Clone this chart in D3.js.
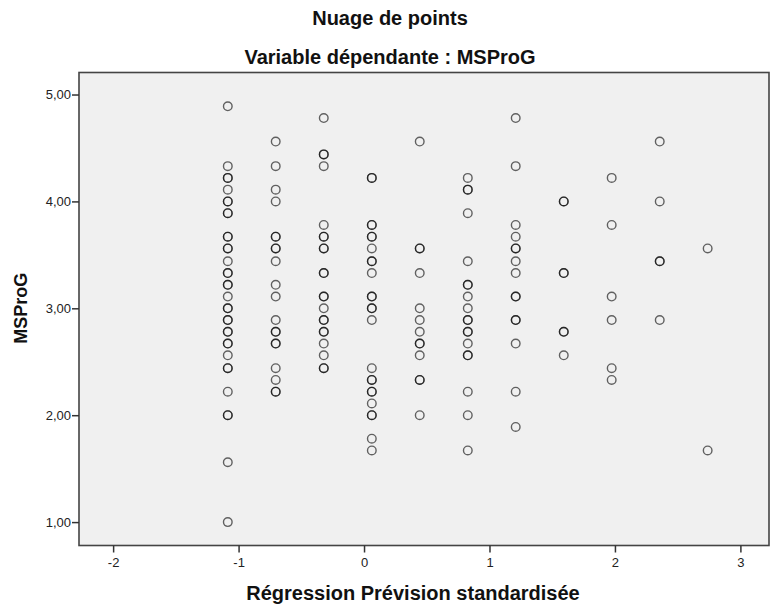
<!DOCTYPE html>
<html>
<head>
<meta charset="utf-8">
<script src="https://cdn.jsdelivr.net/npm/d3@7"></script>
<style>
  html, body { margin: 0; padding: 0; background: #fff; }
  svg { display: block; font-family: "Liberation Sans", Arial, sans-serif; }
</style>
</head>
<body>
<svg id="chart" width="770" height="612"></svg>
<script>
// ---- Data ----
const titleLines = ["Nuage de points", "Variable dépendante : MSProG"];
const xLabel = "Régression Prévision standardisée";
const yLabel = "MSProG";
const xTicks = [-2, -1, 0, 1, 2, 3];
const yTicks = [1, 2, 3, 4, 5];
// standardized predicted values (one column per level)
const predictedLevels = [-1.086, -0.704, -0.321, 0.062, 0.444, 0.827, 1.209, 1.592, 1.974, 2.357, 2.739];
// observed MSProG values for each predicted level (repeats = overlapping points)
const msprog0 = [4.89, 4.33, 4.22, 4.22, 4.11, 4.00, 4.00, 3.89, 3.89, 3.67, 3.67, 3.56, 3.56, 3.44, 3.33, 3.33, 3.22, 3.22, 3.11, 3.00, 3.00, 2.89, 2.89, 2.78, 2.78, 2.67, 2.67, 2.56, 2.44, 2.44, 2.22, 2.00, 2.00, 1.56, 1.00];
const msprog1 = [4.56, 4.33, 4.11, 4.00, 3.67, 3.67, 3.56, 3.56, 3.44, 3.22, 3.11, 2.89, 2.78, 2.78, 2.67, 2.67, 2.44, 2.33, 2.22, 2.22];
const msprog2 = [4.78, 4.44, 4.44, 4.33, 3.78, 3.67, 3.67, 3.56, 3.56, 3.33, 3.33, 3.11, 3.11, 3.00, 2.89, 2.89, 2.78, 2.78, 2.67, 2.56, 2.44, 2.44];
const msprog3 = [4.22, 4.22, 3.78, 3.78, 3.67, 3.67, 3.56, 3.44, 3.44, 3.33, 3.11, 3.11, 3.00, 3.00, 2.89, 2.44, 2.33, 2.33, 2.22, 2.22, 2.11, 2.00, 2.00, 1.78, 1.67];
const msprog4 = [4.56, 3.56, 3.56, 3.33, 3.00, 2.89, 2.78, 2.67, 2.67, 2.56, 2.33, 2.33, 2.00];
const msprog5 = [4.22, 4.11, 4.11, 3.89, 3.44, 3.22, 3.22, 3.11, 3.00, 2.89, 2.89, 2.78, 2.78, 2.67, 2.56, 2.56, 2.22, 2.00, 1.67];
const msprog6 = [4.78, 4.33, 3.78, 3.67, 3.56, 3.56, 3.44, 3.33, 3.11, 3.11, 2.89, 2.89, 2.67, 2.22, 1.89];
const msprog7 = [4.00, 4.00, 3.33, 3.33, 2.78, 2.78, 2.56];
const msprog8 = [4.22, 3.78, 3.11, 2.89, 2.44, 2.33];
const msprog9 = [4.56, 4.00, 3.44, 3.44, 2.89];
const msprog10 = [3.56, 1.67];
const msprogByLevel = [msprog0, msprog1, msprog2, msprog3, msprog4, msprog5, msprog6, msprog7, msprog8, msprog9, msprog10];

const points = [];
predictedLevels.forEach((xv, i) => msprogByLevel[i].forEach(yv => points.push({x: xv, y: yv})));

// ---- Layout ----
const svg = d3.select("#chart");
const plot = {left: 79, right: 769, top: 72.5, bottom: 545.5};

const x = d3.scaleLinear().domain([-2.272, 3.228]).range([plot.left, plot.right]);
const y = d3.scaleLinear().domain([0.781, 5.206]).range([plot.bottom, plot.top]);

const fontFam = "Liberation Sans, Arial, sans-serif";

// titles
svg.append("text").attr("x", 390).attr("y", 25).attr("text-anchor", "middle")
  .attr("font-size", 20).attr("font-weight", "bold").attr("fill", "#111").text(titleLines[0]);
svg.append("text").attr("x", 390).attr("y", 64).attr("text-anchor", "middle")
  .attr("font-size", 20).attr("font-weight", "bold").attr("fill", "#111").text(titleLines[1]);

// plot background
svg.append("rect").attr("x", plot.left).attr("y", plot.top)
  .attr("width", plot.right - plot.left).attr("height", plot.bottom - plot.top)
  .attr("fill", "#f0f0f0");

// points
svg.append("g").selectAll("circle").data(points).join("circle")
  .attr("cx", d => x(d.x)).attr("cy", d => y(d.y)).attr("r", 4.3)
  .attr("fill", "none").attr("stroke", "#000").attr("stroke-opacity", 0.6).attr("stroke-width", 1.4);

// frame
svg.append("rect").attr("x", plot.left).attr("y", plot.top)
  .attr("width", plot.right - plot.left).attr("height", plot.bottom - plot.top)
  .attr("fill", "none").attr("stroke", "#444").attr("stroke-width", 1.6);

// axes
const xAxis = d3.axisBottom(x).tickValues(xTicks).tickSize(7).tickPadding(5).tickFormat(d => String(d));
const gx = svg.append("g").attr("transform", `translate(0,${plot.bottom})`).call(xAxis);
gx.select(".domain").remove();
gx.selectAll("line").attr("stroke", "#333").attr("stroke-width", 1.5);
gx.selectAll("text").attr("font-size", 13).attr("fill", "#222").attr("font-family", fontFam);

const yAxis = d3.axisLeft(y).tickValues(yTicks).tickSize(7).tickPadding(1).tickFormat(d => d3.format(".2f")(d).replace(".", ","));
const gy = svg.append("g").attr("transform", `translate(${plot.left},0)`).call(yAxis);
gy.select(".domain").remove();
gy.selectAll("line").attr("stroke", "#333").attr("stroke-width", 1.5);
gy.selectAll("text").attr("font-size", 13).attr("fill", "#222").attr("font-family", fontFam);

// axis labels
svg.append("text").attr("x", 413).attr("y", 600).attr("text-anchor", "middle")
  .attr("font-size", 20).attr("font-weight", "bold").attr("fill", "#111").text(xLabel);
svg.append("text").attr("transform", `translate(27,${y(3)}) rotate(-90)`).attr("text-anchor", "middle")
  .attr("font-size", 18).attr("font-weight", "bold").attr("fill", "#111").text(yLabel);
</script>
</body>
</html>
